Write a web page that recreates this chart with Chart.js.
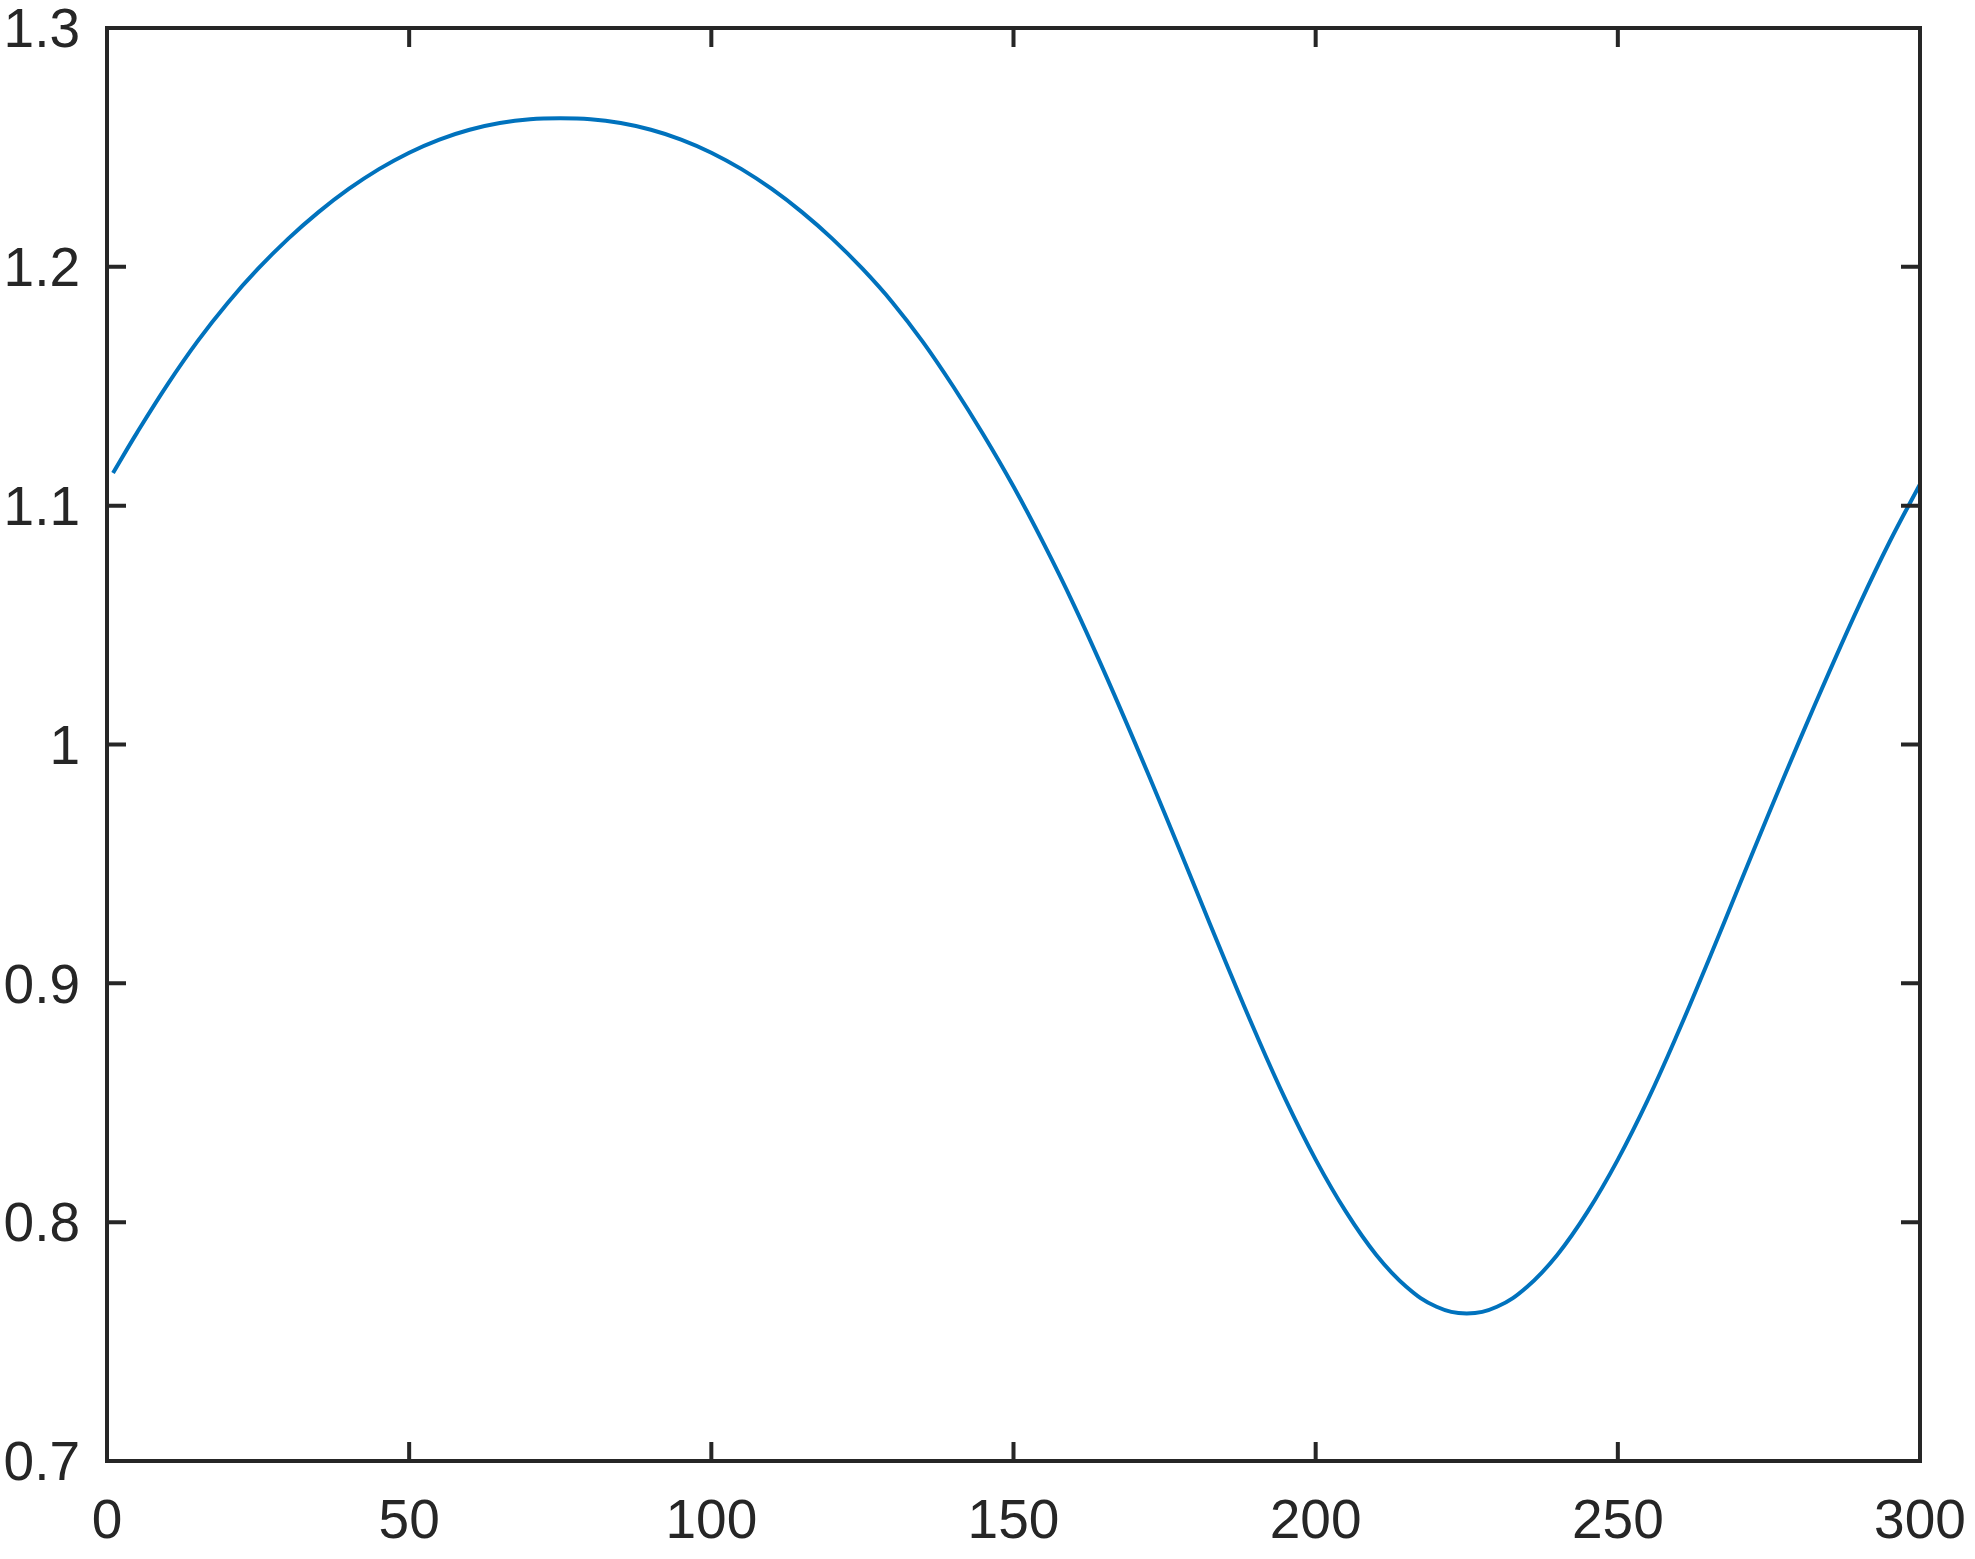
<!DOCTYPE html>
<html><head><meta charset="utf-8">
<script src="https://cdn.jsdelivr.net/npm/chart.js@4/dist/chart.umd.min.js"></script>
<style>html,body{margin:0;padding:0;background:#fff;} canvas{display:block;}</style>
</head><body>
<canvas id="c" width="1975" height="1559"></canvas>
<script>
// Values (every 5 units along x)
const xValues = [1, 5, 10, 15, 20, 25, 30, 35, 40, 45, 50, 55, 60, 65, 70, 75,
  80, 85, 90, 95, 100, 105, 110, 115, 120, 125, 130, 135, 140, 145, 150,
  155, 160, 165, 170, 175, 180, 185, 190, 195, 200, 205, 210, 215, 220, 225,
  230, 235, 240, 245, 250, 255, 260, 265, 270, 275, 280, 285, 290, 295, 300];
const yValues = [1.1137, 1.1307, 1.1507, 1.1689, 1.1850, 1.1992, 1.2118, 1.2229, 1.2326, 1.2409, 1.2478, 1.2533, 1.2574, 1.2602, 1.2618, 1.2622,
  1.2618, 1.2602, 1.2574, 1.2533, 1.2478, 1.2409, 1.2326, 1.2229, 1.2118, 1.1992, 1.1850, 1.1686, 1.1500, 1.1298, 1.1080,
  1.0841, 1.0584, 1.0305, 1.0013, 0.9712, 0.9404, 0.9096, 0.8796, 0.8514, 0.8262, 0.8044, 0.7864, 0.7730, 0.7646, 0.7618,
  0.7646, 0.7730, 0.7864, 0.8044, 0.8262, 0.8514, 0.8796, 0.9096, 0.9404, 0.9712, 1.0013, 1.0305, 1.0587, 1.0850, 1.1090];
const xTicks = [0, 50, 100, 150, 200, 250, 300];
const xTickLabels = ['0', '50', '100', '150', '200', '250', '300'];
const yTicks = [0.7, 0.8, 0.9, 1.0, 1.1, 1.2, 1.3];
const yTickLabels = ['0.7', '0.8', '0.9', '1', '1.1', '1.2', '1.3'];

const INK = '#262626';
const FONT = {family: "'Liberation Sans', Arial, Helvetica, sans-serif", size: 55, lineHeight: 1.2};

const framePlugin = {
  id: 'frame',
  afterDatasetsDraw(chart) {
    const {ctx, chartArea: a, scales} = chart;
    const x = scales.x, y = scales.y;
    const L = 19;
    ctx.save();
    ctx.strokeStyle = INK;
    ctx.lineWidth = 4;
    ctx.lineCap = 'butt';
    ctx.beginPath();
    xTicks.forEach(v => {
      const p = x.getPixelForValue(v);
      ctx.moveTo(p, a.bottom); ctx.lineTo(p, a.bottom - L);
      ctx.moveTo(p, a.top); ctx.lineTo(p, a.top + L);
    });
    yTicks.forEach(v => {
      const p = y.getPixelForValue(v);
      ctx.moveTo(a.left, p); ctx.lineTo(a.left + L, p);
      ctx.moveTo(a.right, p); ctx.lineTo(a.right - L, p);
    });
    ctx.stroke();
    ctx.strokeRect(a.left, a.top, a.right - a.left, a.bottom - a.top);
    ctx.restore();
  }
};

new Chart(document.getElementById('c'), {
  type: 'line',
  data: {
    datasets: [{
      data: xValues.map((v, i) => ({x: v, y: yValues[i]})),
      borderColor: '#0072BD',
      borderWidth: 4,
      pointRadius: 0,
      fill: false,
      tension: 0.4
    }]
  },
  options: {
    responsive: false,
    animation: false,
    devicePixelRatio: 1,
    layout: {padding: {top: 28, right: 55, left: 0, bottom: 0}},
    plugins: {legend: {display: false}, tooltip: {enabled: false}},
    scales: {
      x: {
        type: 'linear', min: 0, max: 300,
        grid: {display: false, drawTicks: false},
        border: {display: false},
        afterBuildTicks: s => { s.ticks = xTicks.map(v => ({value: v})); },
        afterFit: s => { s.height = 98; s.paddingLeft = 0; s.paddingRight = 0; },
        ticks: {
          color: INK, font: FONT, padding: 29, maxRotation: 0, autoSkip: false,
          callback: (v, i) => xTickLabels[i]
        }
      },
      y: {
        type: 'linear', min: 0.7, max: 1.3,
        grid: {display: false, drawTicks: false},
        border: {display: false},
        afterBuildTicks: s => { s.ticks = yTicks.map(v => ({value: v})); },
        afterFit: s => { s.width = 107; s.paddingTop = 0; s.paddingBottom = 0; },
        ticks: {
          color: INK, font: FONT, padding: 27, labelOffset: 4, autoSkip: false,
          callback: (v, i) => yTickLabels[i]
        }
      }
    }
  },
  plugins: [framePlugin]
});
</script>
</body></html>
